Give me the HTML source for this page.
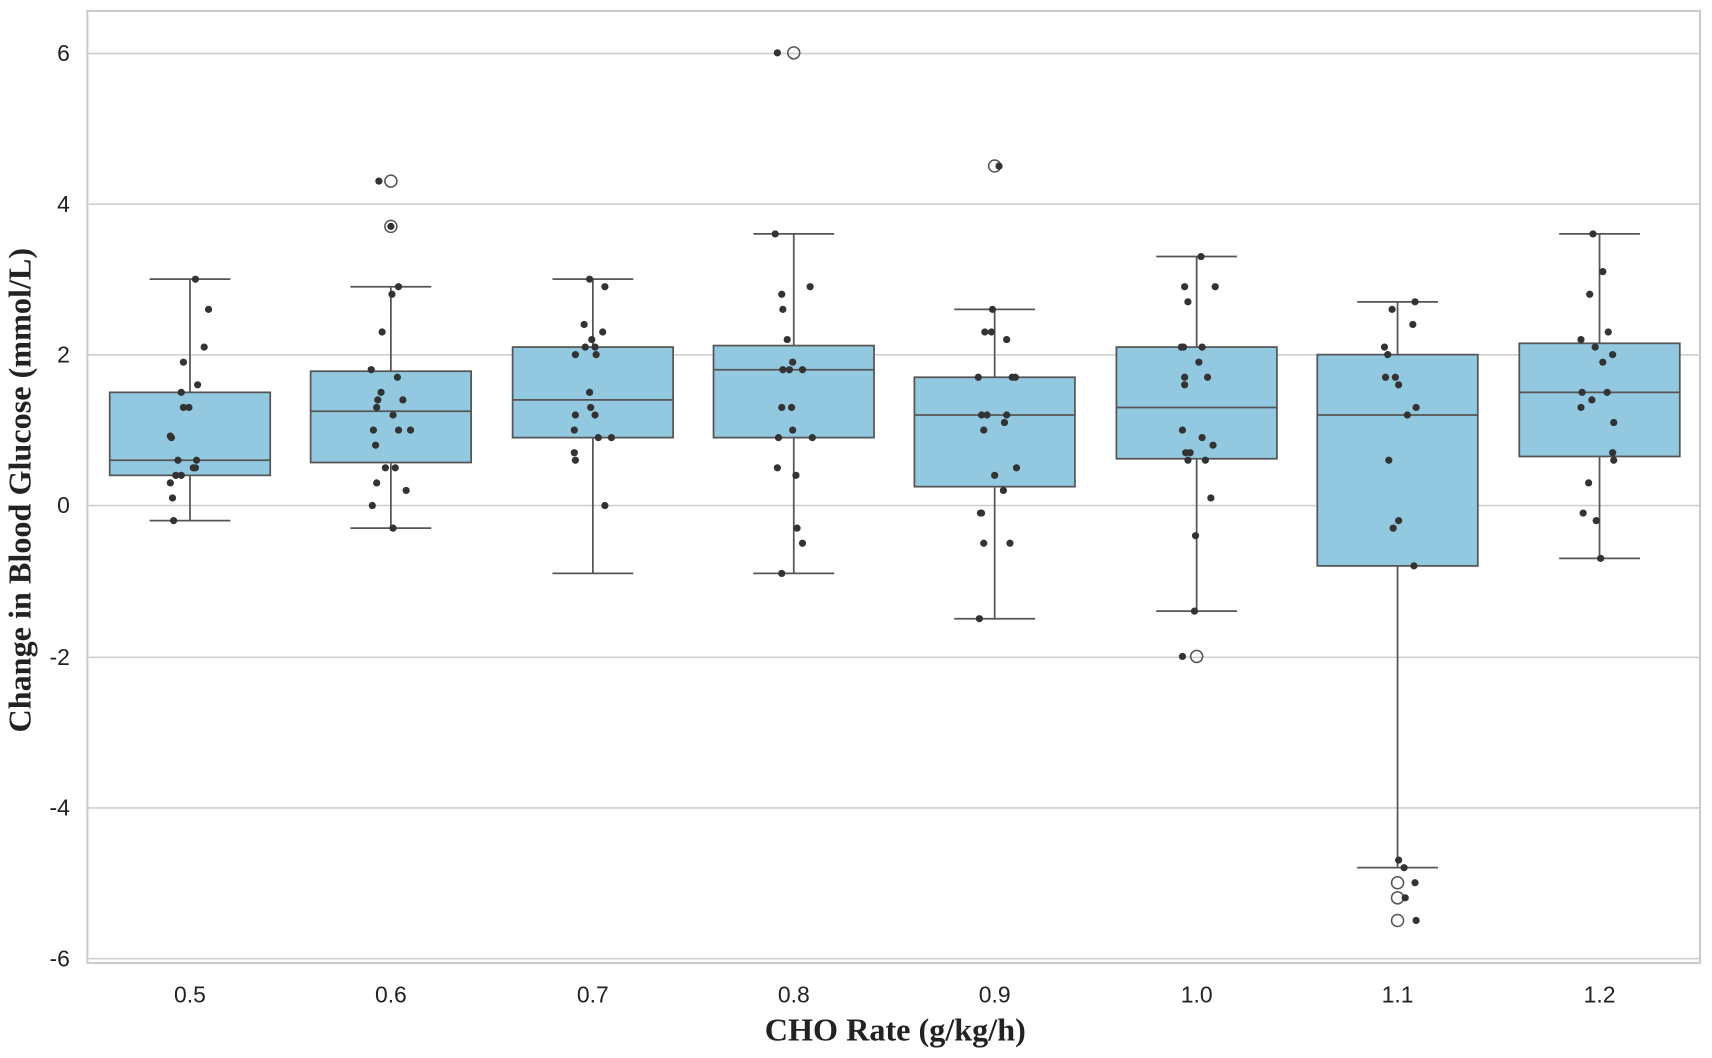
<!DOCTYPE html>
<html><head><meta charset="utf-8"><style>html,body{margin:0;padding:0;background:#fff;}svg{display:block}</style></head>
<body>
<svg id="c" width="1712" height="1058" viewBox="0 0 1568 969" preserveAspectRatio="none" xmlns="http://www.w3.org/2000/svg">
<rect x="80" y="10" width="1477" height="872" fill="#fff" stroke="#ccc" stroke-width="2"/>
<g stroke="#cfcfcf" stroke-width="1.5">
<line x1="80" x2="1557" y1="49" y2="49"/><line x1="80" x2="1557" y1="187" y2="187"/>
<line x1="80" x2="1557" y1="325" y2="325"/><line x1="80" x2="1557" y1="463" y2="463"/>
<line x1="80" x2="1557" y1="602" y2="602"/><line x1="80" x2="1557" y1="740" y2="740"/>
<line x1="80" x2="1557" y1="878" y2="878"/>
</g>
<g font-family="Liberation Sans, sans-serif" font-size="21" fill="#222" text-anchor="end">
<text x="64" y="56">6</text><text x="64" y="194">4</text><text x="64" y="332">2</text><text x="64" y="470">0</text>
<text x="64" y="609">-2</text><text x="64" y="747">-4</text><text x="64" y="885">-6</text>
</g>
<g font-family="Liberation Sans, sans-serif" font-size="21" fill="#222" text-anchor="middle">
<text x="174" y="918">0.5</text><text x="358" y="918">0.6</text><text x="543" y="918">0.7</text><text x="727" y="918">0.8</text>
<text x="911" y="918">0.9</text><text x="1096" y="918">1.0</text><text x="1280" y="918">1.1</text><text x="1465" y="918">1.2</text>
</g>
<text x="820" y="953" text-anchor="middle" font-family="Liberation Serif, serif" font-weight="bold" font-size="29.5" fill="#222">CHO Rate (g/kg/h)</text>
<text transform="translate(28,449) rotate(-90)" text-anchor="middle" font-family="Liberation Serif, serif" font-weight="bold" font-size="29.5" fill="#222">Change in Blood Glucose (mmol/L)</text>
<g id="boxes"></g><g id="pts"></g>
</svg>
<script>
var Y=function(v){return 463-69.1*v;};
var xs=[174,358,543,727,911,1096,1280,1465];
var B=[[0.4,0.6,1.5,-0.2,3.0],[0.57,1.25,1.78,-0.3,2.9],[0.9,1.4,2.1,-0.9,3.0],[0.9,1.8,2.12,-0.9,3.6],[0.25,1.2,1.7,-1.5,2.6],[0.62,1.3,2.1,-1.4,3.3],[-0.8,1.2,2.0,-4.8,2.7],[0.65,1.5,2.15,-0.7,3.6]];
var O=[[1,4.3],[1,3.7],[3,6],[4,4.5],[5,-2],[6,-5],[6,-5.2],[6,-5.5]];
var s='';
B.forEach(function(b,i){var x=xs[i],w=73.5,c='#555';
s+='<line x1="'+x+'" x2="'+x+'" y1="'+Y(b[2])+'" y2="'+Y(b[4])+'" stroke="'+c+'" stroke-width="1.6"/>';
s+='<line x1="'+x+'" x2="'+x+'" y1="'+Y(b[0])+'" y2="'+Y(b[3])+'" stroke="'+c+'" stroke-width="1.6"/>';
s+='<line x1="'+(x-37)+'" x2="'+(x+37)+'" y1="'+Y(b[4])+'" y2="'+Y(b[4])+'" stroke="'+c+'" stroke-width="1.6"/>';
s+='<line x1="'+(x-37)+'" x2="'+(x+37)+'" y1="'+Y(b[3])+'" y2="'+Y(b[3])+'" stroke="'+c+'" stroke-width="1.6"/>';
s+='<rect x="'+(x-w)+'" y="'+Y(b[2])+'" width="'+(2*w)+'" height="'+(Y(b[0])-Y(b[2]))+'" fill="#92c9e0" stroke="'+c+'" stroke-width="1.6"/>';
s+='<line x1="'+(x-w)+'" x2="'+(x+w)+'" y1="'+Y(b[1])+'" y2="'+Y(b[1])+'" stroke="'+c+'" stroke-width="1.6"/>';});
O.forEach(function(o){s+='<circle cx="'+xs[o[0]]+'" cy="'+Y(o[1])+'" r="5.5" fill="none" stroke="#555" stroke-width="1.4"/>';});
document.getElementById('boxes').innerHTML=s;
var P=[179,3.0,191,2.6,187,2.1,168,1.9,181,1.6,166,1.5,168,1.3,173,1.3,156,0.92,157,0.9,163,0.6,180,0.6,177,0.5,179,0.5,161,0.4,166,0.4,156,0.3,158,0.1,159,-0.2,
347,4.3,358,3.7,365,2.9,359,2.8,350,2.3,340,1.8,364,1.7,349,1.5,346,1.4,369,1.4,345,1.3,360,1.2,342,1.0,365,1.0,376,1.0,344,0.8,353,0.5,362,0.5,345,0.3,372,0.2,341,0.0,360,-0.3,
540,3.0,554,2.9,535,2.4,552,2.3,542,2.2,536,2.1,545,2.1,527,2.0,546,2.0,540,1.5,527,1.2,541,1.3,545,1.2,526,1.0,548,0.9,560,0.9,526,0.7,527,0.6,554,0.0,
712,6.0,710,3.6,742,2.9,716,2.8,717,2.6,721,2.2,726,1.9,717,1.8,723,1.8,735,1.8,716,1.3,725,1.3,726,1.0,713,0.9,744,0.9,712,0.5,729,0.4,730,-0.3,735,-0.5,716,-0.9,
915,4.5,909,2.6,902,2.3,908,2.3,922,2.2,896,1.7,927,1.7,930,1.7,899,1.2,904,1.2,922,1.2,920,1.1,901,1.0,931,0.5,911,0.4,919,0.2,898,-0.1,899,-0.1,901,-0.5,925,-0.5,897,-1.5,
1083,-2.0,1100,3.3,1085,2.9,1113,2.9,1088,2.7,1082,2.1,1084,2.1,1101,2.1,1098,1.9,1085,1.7,1106,1.7,1085,1.6,1083,1.0,1101,0.9,1111,0.8,1086,0.7,1090,0.7,1088,0.6,1104,0.6,1109,0.1,1095,-0.4,1094,-1.4,
1296,2.7,1275,2.6,1294,2.4,1268,2.1,1271,2.0,1269,1.7,1278,1.7,1281,1.6,1297,1.3,1289,1.2,1272,0.6,1281,-0.2,1276,-0.3,1295,-0.8,1281,-4.7,1286,-4.8,1296,-5.0,1287,-5.2,1297,-5.5,
1459,3.6,1468,3.1,1456,2.8,1473,2.3,1448,2.2,1461,2.1,1477,2.0,1468,1.9,1449,1.5,1472,1.5,1448,1.3,1458,1.4,1478,1.1,1477,0.7,1478,0.6,1455,0.3,1450,-0.1,1462,-0.2,1466,-0.7];
var t='';for(var i=0;i<P.length;i+=2){t+='<circle cx="'+P[i]+'" cy="'+Y(P[i+1])+'" r="3.3" fill="#333"/>';}
document.getElementById('pts').innerHTML=t;
</script>
</body></html>
